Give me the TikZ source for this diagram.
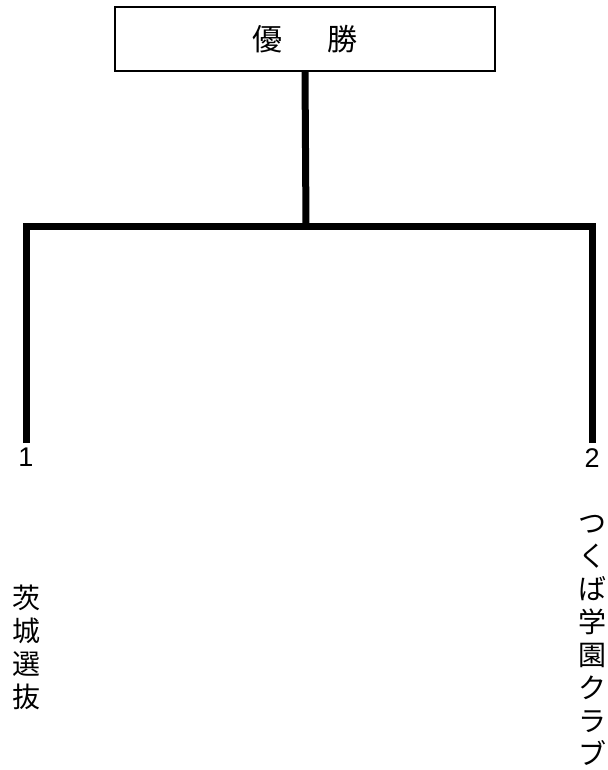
\documentclass[tikz,border=0pt]{standalone}
\usepackage{fontspec}
\setmainfont{Liberation Sans}
\newfontfamily\cjk{Noto Sans CJK JP}
\begin{document}
\begin{tikzpicture}[x=1pt,y=-1pt,
    bar/.style={line width=7pt, line join=miter},
    seed/.style={font=\fontsize{27}{30}\selectfont, inner sep=0pt, anchor=north},
    team/.style={font=\cjk\fontsize{28}{33}\selectfont, align=center, inner sep=0pt, anchor=north}]
      \useasboundingbox (0,0) rectangle (607,770);
      \node[draw, line width=2pt, minimum width=380pt, minimum height=64pt, inner sep=0pt,
        font=\cjk\fontsize{30}{33}\selectfont] (win) at (305,39) {優\hspace{45pt}勝};
      \coordinate (top) at (306,226);
      \draw
        (26,448) node[seed] (1){1}
        (592,448) node[seed] (2){2};
      \node[team] (t1) at (26.5,585) {茨\\城\\選\\抜};
      \node[team] (t2) at (592.5,515) {つ\\く\\ば\\学\\園\\ク\\ラ\\ブ};
      \begin{scope}[bar]
        \draw (win.south) -- (top);
        \draw[shorten <=5pt, shorten >=5pt] (1.north) |- (top) -| (2.north);
      \end{scope}
    \end{tikzpicture}
\end{document}
